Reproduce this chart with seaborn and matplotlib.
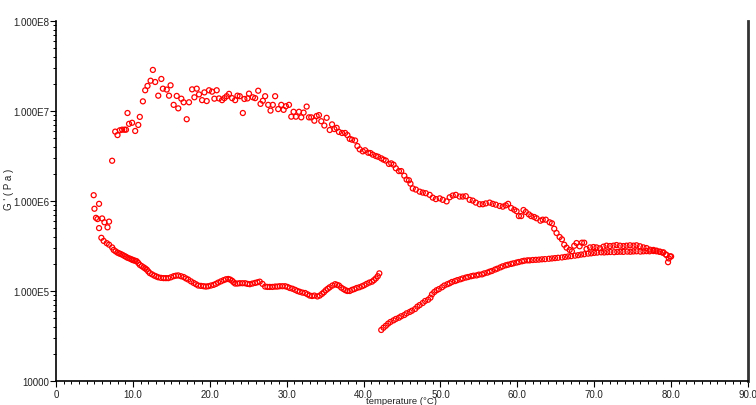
import numpy as np
import pandas as pd
import matplotlib
matplotlib.use("Agg")
import matplotlib.pyplot as plt
import matplotlib.ticker as mticker
import seaborn as sns

# ---- data (temperature in degC, G' in Pa) ----

# low branch, 5 -> 42 degC
temp_low = [4.9, 5.0, 5.6, 5.2, 5.4, 6.0, 5.6, 6.3, 6.9, 6.7, 5.9, 6.2, 6.6, 6.9, 7.3, 7.5,
            7.75, 8.0, 8.2, 8.4, 8.65, 8.9, 9.1, 9.3, 9.55, 9.8, 9.95, 10.1, 10.3, 10.5, 10.7,
            10.9, 11.15, 11.4, 11.6, 11.8, 12.0, 12.2, 12.5, 12.8, 13.05, 13.3, 13.65, 14.0,
            14.3, 14.6, 14.95, 15.3, 15.6, 15.9, 16.25, 16.6, 16.9, 17.2, 17.55, 17.9, 18.2,
            18.5, 18.85, 19.2, 19.5, 19.8, 20.15, 20.5, 20.8, 21.1, 21.45, 21.8, 22.1, 22.4,
            22.65, 22.9, 23.1, 23.3, 23.6, 23.9, 24.25, 24.6, 24.9, 25.2, 25.55, 25.9, 26.2,
            26.5, 26.85, 27.2, 27.5, 27.8, 28.15, 28.5, 28.8, 29.1, 29.45, 29.8, 30.1, 30.4,
            30.75, 31.1, 31.4, 31.7, 32.05, 32.4, 32.7, 33.0, 33.3, 33.6, 34.0, 34.3, 34.6,
            34.85, 35.1, 35.35, 35.6, 35.95, 36.3, 36.55, 36.8, 37.1, 37.4, 37.65, 37.9, 38.2,
            38.5, 38.8, 39.1, 39.45, 39.8, 40.1, 40.4, 40.75, 41.1, 41.35, 41.6, 41.85, 42.05]
g_low = [1.16e6, 8.2e5, 9.3e5, 6.5e5, 6.3e5, 6.4e5, 5.0e5, 5.8e5, 5.9e5, 5.1e5, 3.9e5, 3.6e5,
         3.4e5, 3.27e5, 3.05e5, 2.86e5, 2.76e5, 2.67e5, 2.62e5, 2.58e5, 2.52e5, 2.45e5, 2.40e5,
         2.34e5, 2.30e5, 2.25e5, 2.22e5, 2.19e5, 2.17e5, 2.14e5, 2.05e5, 1.95e5, 1.89e5, 1.83e5,
         1.78e5, 1.73e5, 1.65e5, 1.58e5, 1.53e5, 1.48e5, 1.45e5, 1.42e5, 1.40e5, 1.39e5, 1.39e5,
         1.39e5, 1.42e5, 1.46e5, 1.48e5, 1.49e5, 1.46e5, 1.43e5, 1.38e5, 1.34e5, 1.28e5, 1.23e5,
         1.19e5, 1.15e5, 1.14e5, 1.13e5, 1.12e5, 1.13e5, 1.15e5, 1.17e5, 1.20e5, 1.24e5, 1.28e5,
         1.32e5, 1.35e5, 1.36e5, 1.34e5, 1.30e5, 1.25e5, 1.21e5, 1.21e5, 1.22e5, 1.22e5, 1.22e5,
         1.20e5, 1.19e5, 1.21e5, 1.23e5, 1.25e5, 1.27e5, 1.20e5, 1.12e5, 1.11e5, 1.11e5, 1.11e5,
         1.12e5, 1.12e5, 1.13e5, 1.13e5, 1.13e5, 1.11e5, 1.08e5, 1.06e5, 1.03e5, 1.00e5, 9.8e4,
         9.6e4, 9.5e4, 9.2e4, 8.9e4, 8.8e4, 8.9e4, 8.7e4, 8.9e4, 9.3e4, 9.7e4, 1.02e5, 1.06e5,
         1.10e5, 1.15e5, 1.19e5, 1.17e5, 1.15e5, 1.09e5, 1.05e5, 1.02e5, 1.00e5, 1.00e5, 1.03e5,
         1.05e5, 1.08e5, 1.10e5, 1.13e5, 1.16e5, 1.20e5, 1.24e5, 1.27e5, 1.32e5, 1.38e5, 1.46e5,
         1.57e5]

# high branch, 7 -> 69 degC
temp_high = [7.3, 7.7, 8.0, 8.3, 8.6, 8.9, 9.1, 9.3, 9.5, 9.9, 10.3, 10.7, 10.9, 11.3, 11.6,
             11.9, 12.3, 12.6, 12.9, 13.3, 13.7, 13.9, 14.4, 14.7, 14.9, 15.3, 15.7, 15.9, 16.3,
             16.6, 17.0, 17.3, 17.7, 18.0, 18.3, 18.6, 19.0, 19.3, 19.6, 19.9, 20.3, 20.6, 20.9,
             21.2, 21.6, 21.9, 22.2, 22.5, 22.9, 23.3, 23.6, 23.9, 24.3, 24.5, 24.9, 25.1, 25.6,
             25.9, 26.3, 26.6, 26.9, 27.2, 27.6, 27.9, 28.2, 28.5, 28.9, 29.3, 29.6, 29.9, 30.3,
             30.6, 30.9, 31.2, 31.6, 31.9, 32.2, 32.6, 32.9, 33.2, 33.6, 33.9, 34.2, 34.5, 34.9,
             35.2, 35.6, 35.9, 36.2, 36.5, 36.8, 37.2, 37.6, 37.9, 38.2, 38.5, 38.9, 39.2, 39.5,
             39.9, 40.2, 40.6, 40.9, 41.2, 41.6, 41.9, 42.3, 42.6, 42.9, 43.3, 43.6, 43.9, 44.2,
             44.6, 44.9, 45.3, 45.6, 45.9, 46.1, 46.4, 46.8, 47.3, 47.7, 48.1, 48.6, 49.0, 49.4,
             49.9, 50.3, 50.8, 51.2, 51.6, 52.0, 52.5, 52.9, 53.3, 53.8, 54.2, 54.6, 55.1, 55.5,
             55.9, 56.4, 56.8, 57.2, 57.7, 58.1, 58.5, 58.8, 59.2, 59.6, 59.9, 60.2, 60.5, 60.8,
             61.1, 61.5, 61.8, 62.2, 62.5, 63.0, 63.3, 63.7, 64.2, 64.5, 64.8, 65.1, 65.5, 65.8,
             66.1, 66.4, 66.8, 67.1, 67.4, 67.7, 68.1, 68.4, 68.7]
g_high = [2.8e6, 5.9e6, 5.4e6, 6.1e6, 6.2e6, 6.2e6, 6.2e6, 9.5e6, 7.2e6, 7.4e6, 6.0e6, 7.0e6,
          8.6e6, 1.28e7, 1.70e7, 1.90e7, 2.17e7, 2.86e7, 2.10e7, 1.48e7, 2.27e7, 1.77e7, 1.73e7,
          1.48e7, 1.93e7, 1.17e7, 1.47e7, 1.07e7, 1.37e7, 1.25e7, 8.1e6, 1.25e7, 1.74e7, 1.42e7,
          1.77e7, 1.53e7, 1.32e7, 1.61e7, 1.29e7, 1.70e7, 1.64e7, 1.37e7, 1.70e7, 1.38e7, 1.32e7,
          1.39e7, 1.46e7, 1.55e7, 1.39e7, 1.32e7, 1.48e7, 1.46e7, 9.5e6, 1.36e7, 1.38e7, 1.56e7,
          1.42e7, 1.39e7, 1.68e7, 1.20e7, 1.30e7, 1.46e7, 1.17e7, 1.01e7, 1.17e7, 1.46e7, 1.05e7,
          1.17e7, 1.03e7, 1.13e7, 1.17e7, 8.65e6, 9.8e6, 8.65e6, 9.8e6, 8.5e6, 9.6e6, 1.12e7,
          8.5e6, 8.5e6, 7.8e6, 8.8e6, 9.0e6, 7.7e6, 6.9e6, 8.4e6, 6.15e6, 7.1e6, 6.3e6, 6.5e6,
          5.85e6, 5.7e6, 5.7e6, 5.4e6, 4.9e6, 4.8e6, 4.7e6, 4.08e6, 3.75e6, 3.56e6, 3.66e6,
          3.44e6, 3.41e6, 3.27e6, 3.16e6, 3.10e6, 2.98e6, 2.88e6, 2.81e6, 2.58e6, 2.62e6, 2.53e6,
          2.31e6, 2.15e6, 2.15e6, 1.91e6, 1.73e6, 1.70e6, 1.56e6, 1.38e6, 1.34e6, 1.27e6, 1.24e6,
          1.22e6, 1.17e6, 1.09e6, 1.05e6, 1.07e6, 1.03e6, 9.9e5, 1.10e6, 1.15e6, 1.17e6, 1.12e6,
          1.12e6, 1.13e6, 1.03e6, 1.01e6, 9.6e5, 9.2e5, 9.2e5, 9.4e5, 9.6e5, 9.3e5, 9.1e5, 8.8e5,
          8.65e5, 8.95e5, 9.3e5, 8.35e5, 8.0e5, 7.7e5, 6.8e5, 6.8e5, 7.94e5, 7.55e5, 7.1e5,
          6.8e5, 6.64e5, 6.43e5, 6.04e5, 6.2e5, 6.2e5, 5.8e5, 5.65e5, 4.92e5, 4.41e5, 3.98e5,
          3.75e5, 3.27e5, 3.03e5, 2.86e5, 2.76e5, 3.18e5, 3.41e5, 3.14e5, 3.44e5, 3.44e5]

# rising branch, 42 -> 80 degC
temp_rise = [42.3, 42.6, 42.9, 43.2, 43.5, 43.9, 44.2, 44.6, 44.9, 45.3, 45.6, 46.0, 46.3, 46.7,
             47.0, 47.3, 47.7, 48.0, 48.4, 48.7, 48.9, 49.2, 49.5, 49.8, 50.2, 50.5, 50.9, 51.2,
             51.5, 51.9, 52.2, 52.6, 52.9, 53.3, 53.6, 54.0, 54.3, 54.7, 55.0, 55.4, 55.7, 56.1,
             56.4, 56.7, 57.1, 57.4, 57.8, 58.1, 58.5, 58.8, 59.2, 59.5, 59.9, 60.2, 60.6, 60.9,
             61.3, 61.6, 62.0, 62.4, 62.8, 63.2, 63.6, 64.1, 64.5, 64.9, 65.3, 65.8, 66.2, 66.6,
             67.0, 67.5, 67.9, 68.3, 68.7, 69.2, 69.6, 70.0, 70.4, 70.9, 71.3, 71.7, 72.1, 72.6,
             73.0, 73.4, 73.8, 74.3, 74.7, 75.1, 75.5, 76.0, 76.4, 76.8, 77.2, 77.7, 78.1, 78.5,
             78.9, 79.3, 79.6, 79.7, 80.0]
g_rise = [3.69e4, 3.91e4, 4.11e4, 4.34e4, 4.53e4, 4.72e4, 4.89e4, 5.05e4, 5.24e4, 5.41e4, 5.65e4,
          5.85e4, 6.04e4, 6.31e4, 6.70e4, 6.98e4, 7.36e4, 7.74e4, 8.0e4, 8.43e4, 9.18e4, 9.75e4,
          1.02e5, 1.05e5, 1.10e5, 1.15e5, 1.19e5, 1.22e5, 1.26e5, 1.29e5, 1.32e5, 1.35e5, 1.38e5,
          1.41e5, 1.43e5, 1.46e5, 1.48e5, 1.49e5, 1.52e5, 1.53e5, 1.57e5, 1.60e5, 1.64e5, 1.67e5,
          1.73e5, 1.77e5, 1.83e5, 1.88e5, 1.93e5, 1.96e5, 2.00e5, 2.03e5, 2.07e5, 2.10e5, 2.14e5,
          2.17e5, 2.19e5, 2.19e5, 2.21e5, 2.22e5, 2.23e5, 2.25e5, 2.26e5, 2.28e5, 2.30e5, 2.32e5,
          2.34e5, 2.36e5, 2.39e5, 2.42e5, 2.44e5, 2.47e5, 2.50e5, 2.54e5, 2.56e5, 2.60e5, 2.62e5,
          2.65e5, 2.67e5, 2.69e5, 2.68e5, 2.70e5, 2.71e5, 2.70e5, 2.72e5, 2.73e5, 2.72e5, 2.74e5,
          2.73e5, 2.75e5, 2.76e5, 2.74e5, 2.76e5, 2.77e5, 2.76e5, 2.78e5, 2.76e5, 2.72e5, 2.66e5,
          2.55e5, 2.09e5, 2.30e5, 2.42e5]

# upper band between 69 and 80 degC
temp_band = [69.0, 69.45, 69.9, 70.3, 70.75, 71.2, 71.6, 72.05, 72.5, 72.9, 73.35, 73.8, 74.2,
             74.65, 75.1, 75.5, 75.95, 76.4, 76.8, 77.25, 77.7, 78.1, 78.55, 79.0, 79.4, 79.85]
g_band = [2.93e5, 3.05e5, 3.08e5, 3.05e5, 2.98e5, 3.11e5, 3.19e5, 3.16e5, 3.19e5, 3.24e5, 3.19e5,
          3.16e5, 3.19e5, 3.22e5, 3.19e5, 3.22e5, 3.14e5, 3.05e5, 3.00e5, 2.88e5, 2.86e5, 2.81e5,
          2.74e5, 2.69e5, 2.51e5, 2.43e5]

df = pd.concat([
    pd.DataFrame({"temperature": temp_low, "G": g_low}),
    pd.DataFrame({"temperature": temp_high, "G": g_high}),
    pd.DataFrame({"temperature": temp_rise, "G": g_rise}),
    pd.DataFrame({"temperature": temp_band, "G": g_band}),
], ignore_index=True)

# ---- style ----
sns.set_theme(style="white")
plt.rcParams["font.family"] = ["Liberation Sans", "DejaVu Sans"]

fig = plt.figure(figsize=(7.56, 4.06), dpi=100)
ax = fig.add_axes([56 / 756, 24 / 406, 692 / 756, 360 / 406])

sns.scatterplot(data=df, x="temperature", y="G", ax=ax, marker="o",
                facecolor="none", edgecolor="#ff0000", linewidth=0.9, s=13, legend=False)

ax.set_yscale("log")
ax.set_xlim(0, 90)
ax.set_ylim(1e4, 1e8)

ax.xaxis.set_major_locator(mticker.MultipleLocator(10))
ax.xaxis.set_minor_locator(mticker.MultipleLocator(1))
ax.xaxis.set_major_formatter(mticker.FuncFormatter(lambda v, p: "0" if v == 0 else f"{v:.1f}"))
ax.yaxis.set_major_locator(mticker.LogLocator(base=10, numticks=10))
ax.yaxis.set_minor_locator(mticker.LogLocator(base=10, subs=np.arange(2, 10), numticks=10))


def yfmt(v, p):
    e = int(round(np.log10(v)))
    if e <= 4:
        return f"{int(round(v))}"
    return f"{v / 10 ** e:.3f}E{e}"


ax.yaxis.set_major_formatter(mticker.FuncFormatter(yfmt))
ax.yaxis.set_minor_formatter(mticker.NullFormatter())

# seaborn's white style hides ticks, switch them back on
ax.tick_params(axis="both", which="both", bottom=True, left=True, top=False, right=False)
ax.tick_params(axis="both", which="major", direction="out", length=4, width=0.8,
               labelsize=7, pad=1, color="black", labelcolor="#222222")
ax.tick_params(axis="both", which="minor", direction="out", length=2.5, width=0.7, color="black")
ax.tick_params(axis="x", which="major", length=4.5)

for side in ["left", "bottom"]:
    ax.spines[side].set_color("black")
    ax.spines[side].set_linewidth(1.2)
ax.spines["top"].set_visible(False)
ax.spines["right"].set_color("#333333")
ax.spines["right"].set_linewidth(2.0)

ax.set_xlabel("temperature (°C)", fontsize=6.8, labelpad=0, color="#222222")
ax.xaxis.set_label_coords(0.5, -0.043)
ax.set_ylabel("G ' ( P a )", fontsize=7, color="#222222")
ax.yaxis.set_label_coords(-0.06, 0.535)

fig.savefig("out.png", dpi=100)
